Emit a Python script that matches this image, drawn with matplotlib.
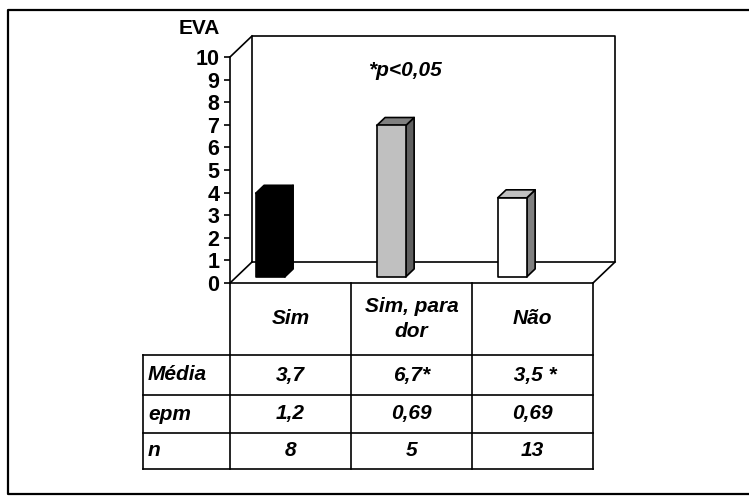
import matplotlib.pyplot as plt
import matplotlib
from matplotlib.patches import Polygon

matplotlib.rcParams['font.family'] = 'Liberation Sans'

# dados
categorias = ['Sim', 'Sim, para\ndor', 'Não']
media = [3.7, 6.7, 3.5]
media_txt = ['3,7', '6,7*', ' 3,5 *']
epm_txt = ['1,2', '0,69', '0,69']
n_txt = ['8', '5', '13']
linhas = ['Média', 'epm', 'n']

# cores das barras (frente, topo, lado)
cores = [('black', 'black', 'black'),
         ('#c0c0c0', '#808080', '#606060'),
         ('white', '#c0c0c0', '#808080')]

W, H = 749, 496
fig = plt.figure(figsize=(W / 100, H / 100), dpi=100)

# eixo de fundo em pixels (moldura + tabela)
bg = fig.add_axes([0, 0, 1, 1])
bg.set_xlim(0, W)
bg.set_ylim(H, 0)
bg.axis('off')

# moldura externa
bg.plot([W + 5, 8, 8, W + 5], [10, 10, 494, 494], color='black', lw=1.6, solid_capstyle='butt')

# area do grafico (frente)
x_esq, x_dir, y_top, y_base = 230, 593, 57, 283
ax = fig.add_axes([x_esq / W, 1 - y_base / H, (x_dir - x_esq) / W, (y_base - y_top) / H])
ax.set_xlim(0, 3)
ax.set_ylim(0, 10)
ax.patch.set_alpha(0)
for s in ['top', 'right']:
    ax.spines[s].set_visible(False)
ax.spines['left'].set_linewidth(1.2)
ax.spines['bottom'].set_linewidth(1.2)
ax.set_xticks([])
ax.set_yticks(range(11))
ax.tick_params(axis='y', direction='out', length=4.5, width=1.2, pad=3, labelsize=15.5)
for t in ax.get_yticklabels():
    t.set_fontweight('bold')

# profundidade 3D em unidades de dados
ddx = 22 / 121
ddy = 21 / 22.6

def proj(x, y, z):
    return (x + z * ddx, y + z * ddy)

lw = 1.2
# parede de fundo e diagonais
parede = [proj(0, 0, 1), proj(0, 10, 1), proj(3, 10, 1), proj(3, 0, 1), proj(0, 0, 1)]
ax.plot([p[0] for p in parede], [p[1] for p in parede], color='black', lw=lw, clip_on=False, zorder=1)
for (x, y) in [(0, 10), (0, 0), (3, 0)]:
    a, b = proj(x, y, 0), proj(x, y, 1)
    ax.plot([a[0], b[0]], [a[1], b[1]], color='black', lw=lw, clip_on=False, zorder=1)

# barras 3D
z0, z1 = 0.29, 0.67
larg = 0.24
for i, v in enumerate(media):
    x0 = i + 0.16
    x1 = x0 + larg
    frente_c, topo_c, lado_c = cores[i]
    frente = [proj(x0, 0, z0), proj(x0, v, z0), proj(x1, v, z0), proj(x1, 0, z0)]
    topo = [proj(x0, v, z0), proj(x0, v, z1), proj(x1, v, z1), proj(x1, v, z0)]
    lado = [proj(x1, 0, z0), proj(x1, v, z0), proj(x1, v, z1), proj(x1, 0, z1)]
    for pts, c in [(lado, lado_c), (topo, topo_c), (frente, frente_c)]:
        ax.add_patch(Polygon(pts, closed=True, facecolor=c, edgecolor='black', lw=lw,
                             joinstyle='round', clip_on=False, zorder=3))

# titulo do eixo e p-valor
bg.text(220, 29, 'EVA', ha='right', va='center', fontsize=15, fontweight='bold')
bg.text(405, 71, '*p<0,05', ha='center', va='center', fontsize=15, fontweight='bold', style='italic')

# tabela
col_w = (x_dir - x_esq) / 3
y_linhas = [283, 355, 395, 433, 469]
tab_esq = 143
for xv in [x_esq, x_esq + col_w, x_esq + 2 * col_w, x_dir]:
    bg.plot([xv, xv], [y_linhas[0], y_linhas[-1]], color='black', lw=lw)
bg.plot([tab_esq, tab_esq], [y_linhas[1], y_linhas[-1]], color='black', lw=lw)
for yh in y_linhas[1:]:
    bg.plot([tab_esq, x_dir], [yh, yh], color='black', lw=lw)

fonte = dict(fontsize=15, fontweight='bold', style='italic')
for i, c in enumerate(categorias):
    xc = x_esq + col_w * (i + 0.5)
    bg.text(xc, (y_linhas[0] + y_linhas[1]) / 2, c, ha='center', va='center',
            linespacing=1.4, **fonte)
    for j, vals in enumerate([media_txt, epm_txt, n_txt]):
        yc = (y_linhas[j + 1] + y_linhas[j + 2]) / 2
        bg.text(xc, yc, vals[i], ha='center', va='center', **fonte)
for j, r in enumerate(linhas):
    yc = (y_linhas[j + 1] + y_linhas[j + 2]) / 2
    bg.text(tab_esq + 5, yc, r, ha='left', va='center', **fonte)

plt.savefig('out.png', dpi=100)
